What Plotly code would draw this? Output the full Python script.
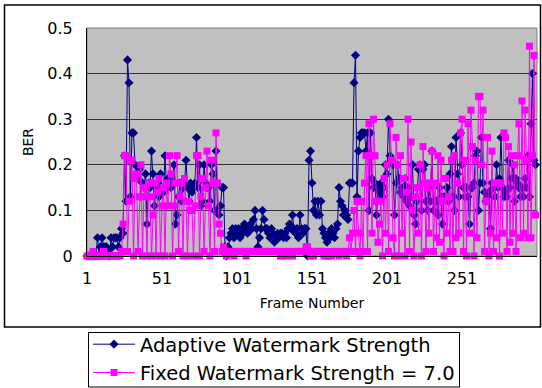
import plotly.graph_objects as go

frames = list(range(1, 301))

adaptive = [
    0, 0, 0, 0, 0, 0, 0, 0.04, 0, 0.02,
    0.04, 0.02, 0.02, 0.02, 0.01, 0, 0.04, 0.02, 0.04, 0.04,
    0.04, 0.02, 0.04, 0.06, 0.05, 0.22, 0.12, 0.43, 0.38, 0.13,
    0.27, 0.27, 0.2, 0.18, 0.17, 0.19, 0.13, 0.16, 0.15, 0.18,
    0.07, 0.16, 0.15, 0.23, 0.18, 0.11, 0.15, 0.16, 0.13, 0.18,
    0.15, 0.14, 0.22, 0.15, 0.17, 0.16, 0.15, 0.16, 0.2, 0.07,
    0.09, 0.13, 0.16, 0.12, 0.15, 0.16, 0.21, 0.15, 0.12, 0.16,
    0.14, 0.15, 0.16, 0.26, 0.15, 0.2, 0.11, 0.12, 0.2, 0.16,
    0.15, 0.15, 0.12, 0.2, 0.18, 0.1, 0.23, 0.1, 0.09, 0.11,
    0.15, 0.15, 0.02, 0, 0.02, 0.04, 0.05, 0.06, 0.04, 0.06,
    0.05, 0.06, 0.04, 0.06, 0.05, 0.07, 0.06, 0.05, 0.06, 0.07,
    0.06, 0.08, 0.1, 0.06, 0.02, 0.04, 0.06, 0.1, 0.08, 0.06,
    0.06, 0.05, 0.04, 0.06, 0.05, 0.03, 0.04, 0.05, 0.04, 0.05,
    0.05, 0.04, 0.05, 0.04, 0.06, 0.07, 0.06, 0.09, 0.06, 0.05,
    0.06, 0.04, 0.09, 0.06, 0.05, 0.06, 0.06, 0.0, 0.21, 0.23,
    0.16, 0.1, 0.12, 0.09, 0.12, 0.09, 0.12, 0.06, 0.05, 0.04,
    0.03, 0.05, 0.04, 0.06, 0.05, 0.04, 0.06, 0.07, 0.15, 0.12,
    0.11, 0.09, 0.1, 0.09, 0.08, 0.16, 0.16, 0.16, 0.38, 0.44,
    0.13, 0.23, 0.26, 0.27, 0.27, 0.27, 0.23, 0.27, 0.10, 0.27,
    0.17, 0.15, 0.16, 0.09, 0.15, 0.14, 0.16, 0.13, 0.15, 0.2,
    0.18, 0.3, 0.22, 0.21, 0.2, 0.09, 0.16, 0.2, 0.17, 0.14,
    0.15, 0.13, 0.17, 0.12, 0.15, 0.11, 0.13, 0.2, 0.09, 0.07,
    0.12, 0.19, 0.2, 0.1, 0.19, 0.2, 0.12, 0.1, 0.15, 0.12,
    0.23, 0.1, 0.12, 0.12, 0.09, 0.15, 0.13, 0.07, 0.13, 0.13,
    0.15, 0.12, 0.18, 0.24, 0.13, 0.1, 0.26, 0.18, 0.13, 0.27,
    0.2, 0.15, 0.13, 0.15, 0.13, 0.07, 0.15, 0.15, 0.16, 0.22,
    0.23, 0.10, 0.16, 0.26, 0.16, 0.14, 0.12, 0.13, 0.14, 0.06,
    0.16, 0.15, 0.13, 0.2, 0.15, 0.17, 0.26, 0.15, 0.13, 0.14,
    0.13, 0.21, 0.15, 0.17, 0.2, 0.12, 0.17, 0.16, 0.15, 0.13,
    0.15, 0.13, 0.17, 0.15, 0.22, 0.13, 0.29, 0.4, 0.21, 0.2,
]

fixed = [
    0, 0, 0, 0, 0.01, 0, 0, 0, 0, 0,
    0, 0.01, 0, 0, 0, 0, 0, 0, 0, 0,
    0, 0, 0, 0.01, 0.07, 0.22, 0.22, 0.01, 0.12, 0.21,
    0.21, 0, 0.17, 0.18, 0.01, 0.13, 0.2, 0, 0.15, 0.13,
    0, 0.16, 0.13, 0, 0.09, 0.16, 0, 0.14, 0.17, 0,
    0.11, 0.15, 0, 0.16, 0.11, 0.22, 0.18, 0, 0.11, 0.16,
    0.22, 0.01, 0.13, 0.16, 0, 0.17, 0.12, 0, 0.12, 0.1,
    0.1, 0, 0.11, 0.22, 0.22, 0, 0.13, 0.17, 0.01, 0.15,
    0.23, 0.11, 0, 0.21, 0.16, 0.01, 0.27, 0.16, 0.07, 0.05,
    0.01, 0.02, 0.01, 0, 0.01, 0.01, 0.01, 0.01, 0, 0.01,
    0.01, 0.01, 0.01, 0.01, 0.01, 0.01, 0, 0.01, 0.01, 0.01,
    0.01, 0.01, 0.01, 0.01, 0.01, 0.01, 0.01, 0.01, 0.01, 0.01,
    0.01, 0.01, 0.01, 0.01, 0.01, 0.01, 0.01, 0.01, 0.01, 0,
    0, 0.01, 0.01, 0, 0.01, 0.01, 0.01, 0, 0.01, 0.01,
    0.01, 0.01, 0.01, 0.01, 0.01, 0.01, 0.02, 0.02, 0.01, 0,
    0.01, 0, 0.01, 0.01, 0.01, 0.01, 0.01, 0.01, 0, 0.01,
    0, 0, 0.01, 0, 0.01, 0.01, 0.01, 0.01, 0, 0.01,
    0.01, 0.01, 0.01, 0, 0.01, 0.04, 0.01, 0.05, 0.1, 0.01,
    0.12, 0.05, 0, 0.12, 0.01, 0.16, 0.22, 0.01, 0.29, 0.22,
    0.05, 0.3, 0.22, 0.12, 0.03, 0.07, 0.12, 0.0, 0.17, 0.05,
    0.2, 0.01, 0.29, 0.21, 0.04, 0.0, 0.26, 0.2, 0, 0.22,
    0.05, 0.17, 0, 0.14, 0.3, 0.01, 0.25, 0.1, 0.0, 0.13,
    0.15, 0.05, 0.2, 0, 0.24, 0.16, 0.01, 0.15, 0.05, 0.16,
    0.23, 0.01, 0.16, 0.04, 0.22, 0.03, 0.21, 0.12, 0.0, 0.17,
    0.05, 0.13, 0.01, 0.21, 0.01, 0.22, 0.04, 0.16, 0.05, 0.27,
    0.3, 0.01, 0.21, 0.0, 0.29, 0.05, 0.32, 0.24, 0.0, 0.21,
    0.04, 0.35, 0.35, 0.2, 0.32, 0.01, 0.12, 0.26, 0.0, 0.05,
    0.23, 0.01, 0.16, 0.04, 0.16, 0.0, 0.16, 0.05, 0.27, 0.26,
    0.01, 0.24, 0.03, 0.22, 0.05, 0.2, 0.01, 0.22, 0.29, 0.04,
    0.34, 0.05, 0.32, 0.21, 0.04, 0.46, 0.04, 0.22, 0.44, 0.09,
]

x_tick_vals = [1, 51, 101, 151, 201, 251]
y_tick_vals = [0, 0.1, 0.2, 0.3, 0.4, 0.5]
y_tick_text = ["0", "0.1", "0.2", "0.3", "0.4", "0.5"]

FONT = "DejaVu Sans"

fig = go.Figure()
fig.add_trace(go.Scatter(
    x=frames, y=adaptive, mode="lines+markers",
    name="Adaptive Watermark Strength",
    line=dict(color="#000080", width=1),
    marker=dict(symbol="diamond", size=7, color="#000080"),
    cliponaxis=False,
))
fig.add_trace(go.Scatter(
    x=frames, y=fixed, mode="lines+markers",
    name="Fixed Watermark Strength = 7.0",
    line=dict(color="#FF00FF", width=1),
    marker=dict(symbol="square", size=7, color="#FF00FF"),
    cliponaxis=False,
))

W, H = 542, 388
L, R, T, B = 87, 5, 28, 132
pw, ph = W - L - R, H - T - B

def px(x):
    return (x - L) / pw

def py(y):
    return (H - B - y) / ph

fig.update_layout(
    width=W, height=H,
    margin=dict(l=L, r=R, t=T, b=B, pad=0, autoexpand=False),
    paper_bgcolor="white",
    plot_bgcolor="#C0C0C0",
    font=dict(family=FONT, color="black", size=15),
    showlegend=True,
    legend=dict(
        x=px(88), y=py(325), xanchor="left", yanchor="top",
        bgcolor="rgba(0,0,0,0)", borderwidth=0,
        font=dict(family=FONT, size=19.5, color="black"),
        itemwidth=42, tracegroupgap=0,
    ),
    xaxis=dict(
        range=[1, 301], tickvals=x_tick_vals,
        showgrid=False, zeroline=False, automargin=False,
        showline=True, linecolor="black", linewidth=1,
        ticks="", ticklabelstandoff=8,
        tickfont=dict(size=16),
        title=dict(text="Frame Number", font=dict(size=14), standoff=10),
    ),
    yaxis=dict(
        range=[0, 0.5], tickvals=y_tick_vals, ticktext=y_tick_text,
        showgrid=True, gridcolor="#333333", gridwidth=1,
        zeroline=False, automargin=False,
        showline=True, linecolor="black", linewidth=1,
        ticks="", ticklabelstandoff=10,
        tickfont=dict(size=16),
        title=dict(text="BER", font=dict(size=14), standoff=10),
    ),
    shapes=[
        dict(type="rect", xref="paper", yref="paper",
             x0=0, x1=1, y0=0, y1=1,
             line=dict(color="#808080", width=1), layer="below"),
        dict(type="rect", xref="paper", yref="paper",
             x0=px(4.5), x1=px(540.5), y0=py(5), y1=py(327),
             line=dict(color="black", width=1.5), fillcolor="rgba(0,0,0,0)"),
        dict(type="rect", xref="paper", yref="paper",
             x0=px(88.5), x1=px(459.5), y0=py(332.5), y1=py(387),
             line=dict(color="black", width=1), fillcolor="white"),
    ],
)

fig.write_html(
    "out.html",
    config={"displayModeBar": False},
    post_script="document.body.style.margin='0';document.body.style.padding='0';",
)
